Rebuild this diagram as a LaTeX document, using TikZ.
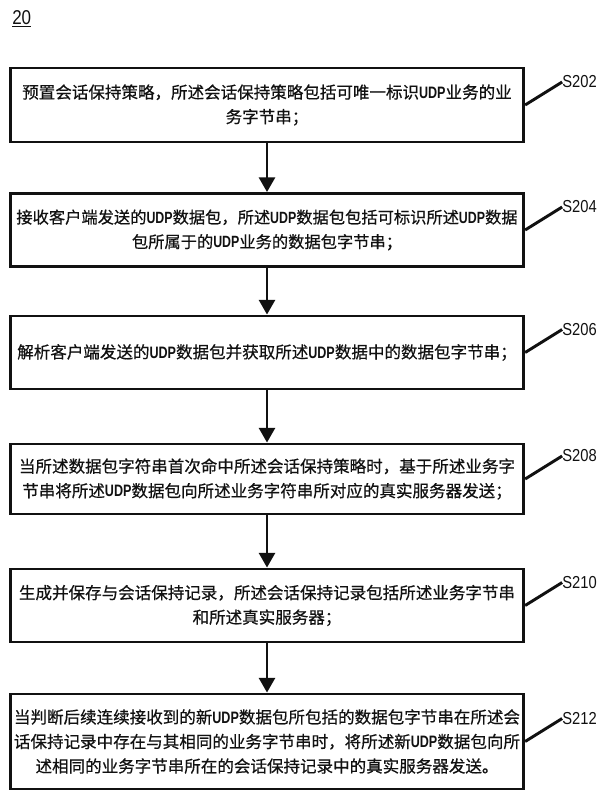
\documentclass[tikz,border=0pt]{standalone}
\usepackage{fontspec}
\usepackage{tikz}
\usetikzlibrary{arrows.meta,positioning}
\newfontfamily\cjk[FakeBold=0.6]{Noto Sans CJK SC}
\newfontfamily\narrow[FakeStretch=0.85]{Liberation Sans}
\newfontfamily\udpfont[FakeStretch=0.76]{Liberation Sans}
\definecolor{FlowInk}{HTML}{111111}
\newcommand{\udp}{{\udpfont\bfseries UDP}}

\begin{document}
\begin{tikzpicture}[x=0.75pt, y=-0.75pt,
  stepbox/.style={draw=FlowInk, line width=2.2pt, rectangle, minimum width=385pt,
    align=center, inner sep=1pt, text=FlowInk,
    font=\cjk\fontsize{12.4pt}{18.4pt}\selectfont},
  steplabel/.style={anchor=west, inner sep=0pt, text=FlowInk,
    font=\narrow\fontsize{13pt}{15pt}\selectfont},
  flowarrow/.style={-{Triangle[width=12pt,length=11pt]}, line width=2pt, draw=FlowInk},
  leader/.style={line width=2.2pt, draw=FlowInk}]
  \useasboundingbox (0,0) rectangle (601,800);
  \node[anchor=base west, inner sep=0pt, text=FlowInk,
    font=\narrow\fontsize{15pt}{17pt}\selectfont] (fig) at (12,24) {\underline{20}};
  % steps
  \node[stepbox, minimum height=55.5pt] (b1) at (267,105)
    {预置会话保持策略，所述会话保持策略包括可唯一标识\udp{}业务的业\\务字节串；};
  \node[stepbox, minimum height=54.75pt, font=\cjk\fontsize{12.2pt}{18.4pt}\selectfont] (b2) at (267,230)
    {接收客户端发送的\udp{}数据包，所述\udp{}数据包包括可标识所述\udp{}数据\\包所属于的\udp{}业务的数据包字节串；};
  \node[stepbox, minimum height=54.75pt] (b3) at (267,352.5)
    {解析客户端发送的\udp{}数据包并获取所述\udp{}数据中的数据包字节串；};
  \node[stepbox, minimum height=52.5pt] (b4) at (267,479)
    {当所述数据包字符串首次命中所述会话保持策略时，基于所述业务字\\节串将所述\udp{}数据包向所述业务字符串所对应的真实服务器发送；};
  \node[stepbox, minimum height=54.75pt] (b5) at (267,605.5)
    {生成并保存与会话保持记录，所述会话保持记录包括所述业务字节串\\和所述真实服务器；};
  \node[stepbox, minimum height=71.25pt] (b6) at (267,741.5)
    {当判断后续连续接收到的新\udp{}数据包所包括的数据包字节串在所述会\\话保持记录中存在与其相同的业务字节串时，将所述新\udp{}数据包向所\\述相同的业务字节串所在的会话保持记录中的真实服务器发送。};
  % connectors
  \foreach \i/\j in {1/2, 2/3, 3/4, 4/5, 5/6}
    \draw[flowarrow] (b\i) -- (b\j);
  % step numbers
  \foreach \i/\s in {1/S202, 2/S204, 3/S206, 4/S208, 5/S210, 6/S212}{%
    \node[steplabel] (l\i) at ([shift={(37,-23)}]b\i.east) {\s};
    \draw[leader] (b\i.east) -- (l\i.west);}
\end{tikzpicture}
\end{document}
